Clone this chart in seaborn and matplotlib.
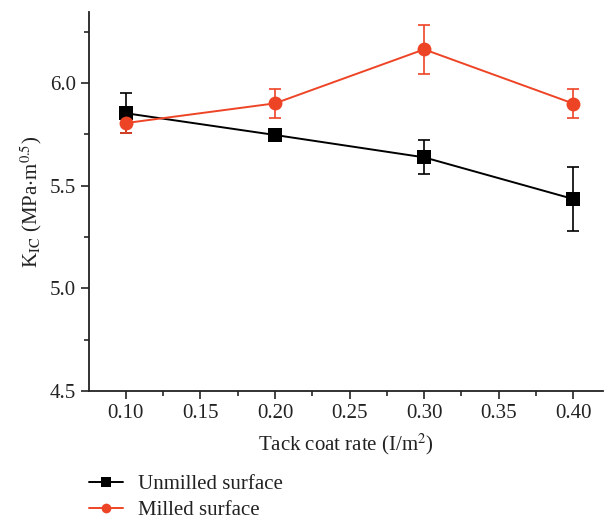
import numpy as np
import pandas as pd
import matplotlib.pyplot as plt
import seaborn as sns
from matplotlib.ticker import MultipleLocator, FormatStrFormatter

rate = [0.10, 0.20, 0.30, 0.40]
unmilled = [5.853, 5.747, 5.638, 5.435]
unmilled_err = [0.097, 0.0, 0.083, 0.155]
milled = [5.805, 5.901, 6.164, 5.900]
milled_err = [0.05, 0.07, 0.12, 0.07]

df = pd.DataFrame({
    'rate': rate * 2,
    'kic': unmilled + milled,
    'surface': ['Unmilled surface'] * 4 + ['Milled surface'] * 4,
})

sns.set_style("ticks")
plt.rcParams['font.family'] = ['Liberation Serif', 'DejaVu Serif']
plt.rcParams['mathtext.fontset'] = 'stix'

red = '#EE4426'
fig = plt.figure(figsize=(6.05, 5.22), dpi=100)
ax = fig.add_axes([0.147, 0.251, 0.85, 0.726])

ax.errorbar(rate, unmilled, yerr=unmilled_err, fmt='none', ecolor='black',
            elinewidth=1.2, capsize=4, capthick=1.2, zorder=2)
ax.errorbar(rate, milled, yerr=milled_err, fmt='none', ecolor=red,
            elinewidth=1.2, capsize=4, capthick=1.2, zorder=2)

sns.lineplot(data=df, x='rate', y='kic', hue='surface', style='surface',
             palette={'Unmilled surface': 'black', 'Milled surface': red},
             markers={'Unmilled surface': 's', 'Milled surface': 'o'},
             dashes=False, markersize=10, markeredgewidth=0, linewidth=1.4,
             ax=ax, zorder=3)

ax.set_xlim(0.0753, 0.42)
ax.set_ylim(4.5, 6.346)
ax.xaxis.set_major_locator(MultipleLocator(0.05))
ax.xaxis.set_minor_locator(MultipleLocator(0.025))
ax.yaxis.set_major_locator(MultipleLocator(0.5))
ax.yaxis.set_minor_locator(MultipleLocator(0.25))
ax.xaxis.set_major_formatter(FormatStrFormatter('%.2f'))
ax.yaxis.set_major_formatter(FormatStrFormatter('%.1f'))
ax.tick_params(which='major', direction='out', length=6, width=1.2,
               labelsize=15, colors='#222222')
ax.tick_params(which='minor', direction='out', length=3.5, width=1.2)
for s in ['left', 'bottom']:
    ax.spines[s].set_linewidth(1.3)
    ax.spines[s].set_color('#222222')
sns.despine(ax=ax)

ax.set_xlabel('Tack coat rate (I/m$^{2}$)', fontsize=15, color='#222222',
              labelpad=6)
ax.set_ylabel('K$_{\\mathrm{IC}}$ (MPa$\\cdot$m$^{0.5}$)', fontsize=15,
              color='#222222', labelpad=4)

handles, labels = ax.get_legend_handles_labels()
ax.get_legend().remove()
for h in handles:
    h.set_markersize(7)
fig.legend(handles, labels, loc='center left', bbox_to_anchor=(0.13, 0.047),
           frameon=False, fontsize=15, handlelength=1.65, labelspacing=0.33,
           handletextpad=0.7, labelcolor='#222222', borderpad=0)

fig.savefig('out.png', dpi=100)
